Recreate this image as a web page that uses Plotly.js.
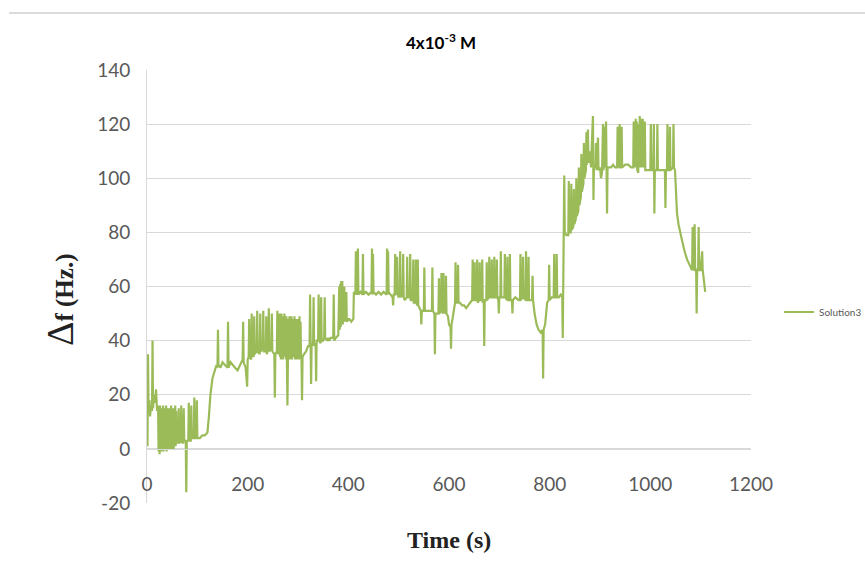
<!DOCTYPE html>
<html>
<head>
<meta charset="utf-8">
<script src="https://cdn.plot.ly/plotly-3.0.1.min.js"></script>
<style>html,body{margin:0;padding:0;background:#fff;}#chart{width:865px;height:572px;}</style>
</head>
<body>
<div id="chart"></div>
<script>
// Time (s) and frequency shift (Hz)
const timeS = [
0,1,2,3,5,6,8,10,11,12,14,16,18,19,20,
22,23,24,25,26,27,28,29,30,31,32,33,34,35,36,37,38,39,40,41,42,43,44,45,46,47,48,49,50,51,52,53,54,55,56,57,58,59,60,
62,63,64,67,68,69,72,73,74,77,78,79,82,83,84,87,88,89,93,94,95,98,99,100,105,110,115,120,
123,126,130,134,138,140,141,142,146,150,155,160,161,162,166,170,175,180,185,190,191,192,196,199,200,202,203,204,207,208,209,212,213,214,218,219,220,224,225,226,230,231,232,236,237,238,241,242,243,247,248,249,253,254,255,258,259,260,
263,264,265,266,267,268,269,270,271,272,273,274,275,276,277,278,279,280,281,282,283,284,285,286,287,288,289,290,291,292,293,294,295,296,297,298,299,300,301,302,303,304,305,306,307,308,309,312,316,320,323,324,325,326,327,330,331,332,335,336,337,340,341,342,345,346,347,350,352,353,354,358,360,362,365,370,371,372,375,380,
382,383,384,385,386,387,388,389,392,393,396,397,400,402,406,410,
411,414,415,416,418,419,420,424,428,429,430,435,440,446,447,448,449,450,455,460,465,470,476,477,478,479,480,485,488,489,490,492,493,494,496,497,498,500,502,503,504,508,509,510,512,516,517,518,522,523,524,528,529,530,533,534,535,537,538,539,542,544,545,546,550,551,552,556,560,566,567,568,571,572,573,576,579,580,581,584,585,586,588,589,590,593,594,595,598,600,603,604,605,607,610,612,613,614,617,618,619,622,626,630,634,638,642,646,647,648,650,651,652,655,656,657,660,661,662,665,666,667,669,670,671,674,675,676,679,680,681,684,685,686,689,690,691,694,695,696,698,699,700,702,703,704,708,710,711,712,715,716,717,720,721,722,725,726,727,732,738,741,742,743,746,747,748,752,753,754,757,758,759,763,765,766,767,770,774,778,782,786,787,788,791,795,798,799,800,804,808,809,810,813,814,815,818,822,825,826,827,
829,830,833,837,838,839,842,843,844,847,848,849,852,853,854,857,858,859,862,863,864,867,868,869,872,873,874,876,877,880,881,882,886,887,888,891,892,893,896,897,900,902,904,906,907,909,910,912,913,914,915,918,922,926,930,934,935,936,938,939,940,942,943,944,950,956,962,966,967,968,969,970,971,972,973,974,976,977,978,979,980,981,982,983,984,985,986,987,988,989,990,993,996,1000,1001,1002,1006,1007,1008,1009,1013,1014,1015,1020,1025,1029,1030,1031,1033,1034,1035,1038,1039,1040,1045,1046,1047,1049,
1051,1053,1056,1060,1063,1068,1073,1078,1083,1084,1085,1087,1088,1089,1091,1092,1093,1095,1096,1097,1100,1103,1104,1106,1109
];
const deltaF = [
33,1,35,14,18,12,16,14,40,15,20,17,22,15,14,
16,-1,15,-2,16,0,15,-1,14,0,16,-1,15,1,14,0,16,-1,15,0,14,1,15,0,13,1,16,0,14,1,15,0,13,1,16,1,14,2,3,
2,15,2,3,16,3,2,15,3,3,-16,3,3,17,3,3,16,4,4,19,4,4,18,4,4,5,5,6,
12,20,26,29,31,30,44,31,30,32,31,30,47,30,32,31,30,29,31,33,47,32,30,23,33,34,48,34,33,50,35,34,49,35,36,51,36,35,50,36,37,51,36,36,49,35,37,52,36,37,50,36,35,19,35,36,51,35,
50,34,49,33,50,34,48,33,49,35,50,34,48,33,49,32,16,33,48,34,49,33,47,34,49,33,48,35,47,34,49,33,48,34,46,33,48,34,47,33,49,35,47,34,33,18,34,35,36,38,38,57,37,24,38,39,56,38,39,25,40,40,57,40,39,56,40,40,41,56,41,40,41,40,41,41,57,40,41,42,
60,44,61,45,62,46,62,46,60,47,58,47,48,48,47,48,
58,57,73,57,58,74,57,58,57,72,57,58,57,58,74,57,72,58,57,58,57,58,57,74,57,73,58,57,56,53,57,57,72,58,57,71,57,56,57,73,56,57,72,56,55,56,71,56,56,72,55,55,70,54,54,70,54,53,70,53,52,51,46,51,51,67,51,51,51,51,67,51,50,35,50,50,50,63,50,51,65,51,50,65,51,50,64,50,49,46,45,37,46,48,53,54,69,54,54,68,54,54,53,53,52,53,54,55,70,55,55,69,55,55,70,54,55,69,55,55,70,54,55,38,55,55,69,55,56,71,56,56,70,56,56,71,56,56,70,56,55,50,56,56,73,56,56,56,72,56,55,71,55,55,72,55,55,50,55,56,55,55,72,55,56,71,56,55,73,55,55,71,55,55,55,64,55,50,46,44,43,44,26,44,46,54,55,68,55,56,56,72,56,56,72,56,56,57,56,41,56,
101,80,79,79,99,80,80,98,81,82,96,83,85,100,86,88,104,90,93,109,95,98,113,100,103,117,105,118,106,106,110,104,123,92,105,104,113,103,115,103,104,100,102,120,103,119,104,121,104,87,104,104,104,105,104,104,119,104,105,120,104,104,119,104,105,105,104,104,121,104,120,105,122,104,121,103,102,120,104,123,105,122,104,121,105,122,104,120,104,121,103,103,103,103,120,103,103,120,87,103,103,120,103,103,103,103,89,103,103,120,103,103,119,103,104,120,104,103,
95,87,83,79,77,73,70,68,66,82,66,67,83,66,66,50,66,67,82,66,66,73,66,63,58
];
const seriesName = 'Solution3';
const xTicks = [0,200,400,600,800,1000,1200];
const yTicks = [-20,0,20,40,60,80,100,120,140];

const tickFont = {family: 'Lato, "Open Sans", sans-serif', size: 19, color: '#595959'};
const serif = '"Liberation Serif", "DejaVu Serif", serif';

const trace = {
  x: timeS, y: deltaF, type: 'scatter', mode: 'lines', name: seriesName,
  line: {color: '#9bbb59', width: 2.2}, showlegend: true
};

const layout = {
  width: 865, height: 572,
  margin: {l: 147, r: 114, t: 70, b: 69, autoexpand: false},
  paper_bgcolor: '#ffffff', plot_bgcolor: '#ffffff',
  title: {
    text: '<b>4x10<sup>-3</sup> M</b>',
    font: {family: 'Lato, "Open Sans", sans-serif', size: 17, color: '#000000'},
    xref: 'container', x: 441/865, xanchor: 'center',
    yref: 'container', y: 1 - 43/572, yanchor: 'middle'
  },
  xaxis: {
    range: [0, 1200], tickvals: xTicks, ticktext: xTicks.map(String),
    anchor: 'free', position: 0.125,
    showgrid: false, zeroline: false, showline: true, linecolor: '#d9d9d9', linewidth: 1,
    ticks: '', tickfont: tickFont, ticklabelstandoff: 18, fixedrange: true
  },
  yaxis: {
    range: [-20, 140], tickvals: yTicks, ticktext: yTicks.map(String),
    showgrid: true, gridcolor: '#d9d9d9', gridwidth: 1, zeroline: false,
    showline: true, linecolor: '#d9d9d9', linewidth: 1,
    ticks: '', tickfont: tickFont, ticklabelstandoff: 12, fixedrange: true
  },
  showlegend: true,
  legend: {
    x: (779 - 147) / 604, xanchor: 'left', y: (503 - 312) / 433, yanchor: 'middle',
    font: {family: 'Lato, "Open Sans", sans-serif', size: 10, color: '#595959'},
    bgcolor: 'rgba(0,0,0,0)', borderwidth: 0
  },
  annotations: [
    {text: '<b>Time (s)</b>', xref: 'paper', yref: 'paper', x: 0.5, y: (503 - 540) / 433,
     xanchor: 'center', yanchor: 'middle', showarrow: false,
     font: {family: serif, size: 24, color: '#222222'}},
    {text: '<span style="font-size:38px">Δ</span><b>f (Hz.)</b>', xref: 'paper', yref: 'paper',
     x: (60 - 147) / 604, y: (503 - 300) / 433, xanchor: 'center', yanchor: 'middle',
     textangle: -90, showarrow: false, font: {family: serif, size: 25, color: '#222222'}}
  ],
  shapes: [
    {type: 'line', xref: 'paper', yref: 'paper', x0: (9 - 147) / 604, x1: (865 - 147) / 604,
     y0: (503 - 13) / 433, y1: (503 - 13) / 433, line: {color: '#cfcfcf', width: 1.5}}
  ]
};

Plotly.newPlot('chart', [trace], layout, {displayModeBar: false, staticPlot: true});
</script>
</body>
</html>
